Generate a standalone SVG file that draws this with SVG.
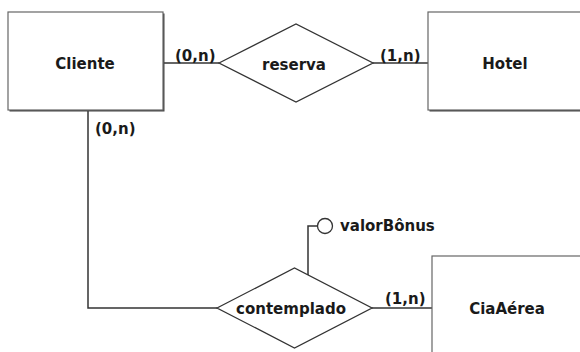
<svg xmlns="http://www.w3.org/2000/svg" width="580" height="352" viewBox="0 0 580 352">
<style>
.ent{fill:#fff;stroke:#666;stroke-width:1.2}
.sh{fill:#444}
.rel{fill:#fff;stroke:#333;stroke-width:1.3}
.ln{fill:none;stroke:#333;stroke-width:1.5}
text{font-family:"DejaVu Sans",Verdana,sans-serif;font-weight:bold;font-size:15px;fill:#1a1a1a}
.c{text-anchor:middle}
</style>
<rect width="580" height="352" fill="#fff"/>
<g id="connectors">
<line class="ln" x1="163" y1="63" x2="219" y2="63"/>
<line class="ln" x1="373" y1="63" x2="428" y2="63"/>
<polyline class="ln" points="88,111 88,308 217,308"/>
<line class="ln" x1="372" y1="308" x2="432" y2="308"/>
<polyline class="ln" points="308,277 308,226 318,226"/>
<text x="175" y="61">(0,n)</text>
<text x="380" y="61">(1,n)</text>
<text x="95" y="134">(0,n)</text>
<text x="385" y="304">(1,n)</text>
</g>
<g id="cliente">
<rect class="sh" x="9.5" y="13.5" width="155" height="98"/>
<rect class="ent" x="8" y="12" width="155" height="98"/>
<text class="c" x="85" y="69">Cliente</text>
</g>
<g id="hotel">
<rect class="sh" x="429.5" y="13.5" width="155" height="98"/>
<rect class="ent" x="428" y="12" width="155" height="98"/>
<text class="c" x="505" y="69">Hotel</text>
</g>
<g id="ciaaerea">
<rect class="sh" x="433.5" y="257.5" width="155" height="98"/>
<rect class="ent" x="432" y="256" width="155" height="98"/>
<text class="c" x="507" y="314">CiaAérea</text>
</g>
<g id="reserva">
<polygon class="rel" points="219,63 296,24 373,63 296,102"/>
<text class="c" x="294" y="70">reserva</text>
</g>
<g id="contemplado">
<polygon class="rel" points="217,308 294.5,268 372,308 294.5,348"/>
<text class="c" x="291" y="314">contemplado</text>
</g>
<g id="valorBonus">
<circle cx="325" cy="226" r="7.5" fill="#fff" stroke="#333" stroke-width="1.3"/>
<text x="340" y="231">valorBônus</text>
</g>
</svg>
